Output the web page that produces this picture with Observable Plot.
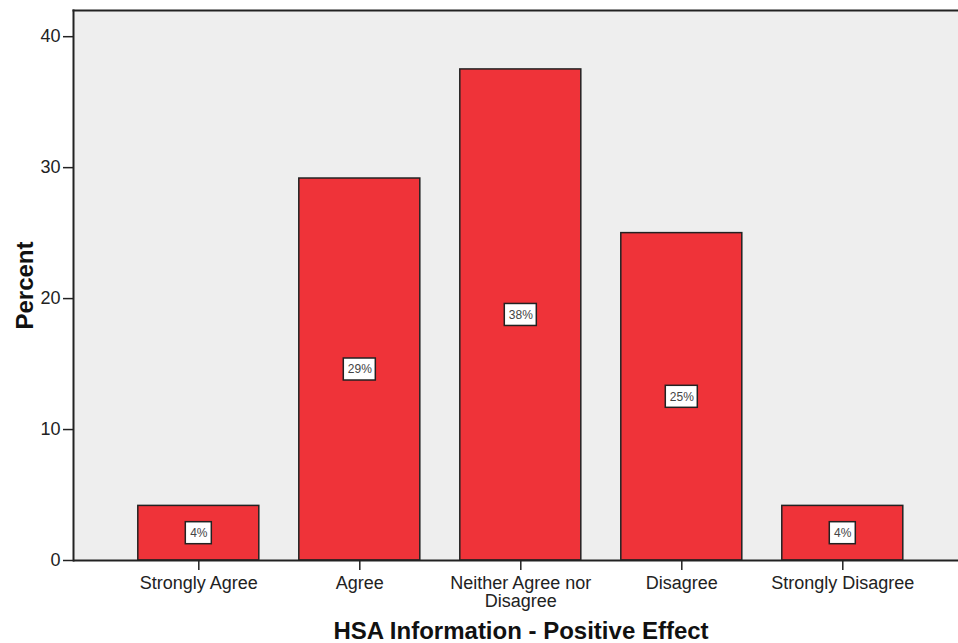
<!DOCTYPE html>
<html>
<head>
<meta charset="utf-8">
<script src="https://cdn.jsdelivr.net/npm/d3@7"></script>
<script src="https://cdn.jsdelivr.net/npm/@observablehq/plot@0.6"></script>
<style>
  html, body { margin: 0; padding: 0; background: #ffffff; }
  #chart svg { display: block; }
</style>
</head>
<body>
<div id="chart"></div>
<script>
const categories = ["Strongly Agree", "Agree", "Neither Agree nor\nDisagree", "Disagree", "Strongly Disagree"];
const percents = [4.17, 29.17, 37.5, 25.0, 4.17];
const pctLabels = ["4%", "29%", "38%", "25%", "4%"];
const yTicks = [0, 10, 20, 30, 40];
const xTitle = "HSA Information - Positive Effect";
const yTitle = "Percent";

const data = categories.map((c, i) => ({cat: c, v: percents[i], half: percents[i] / 2, lab: pctLabels[i]}));
const short = data.filter(d => d.lab.length <= 2);
const long = data.filter(d => d.lab.length > 2);

const font = "'Liberation Sans', Arial, Helvetica, sans-serif";
const ink = "#222";

const chart = Plot.plot({
  width: 958,
  height: 643,
  marginLeft: 73,
  marginRight: 0,
  marginTop: 10,
  marginBottom: 83,
  style: {fontFamily: font, background: "#ffffff"},
  x: {domain: categories, paddingInner: 0.2484, paddingOuter: 0.3727, align: 0.54, round: false, axis: null},
  y: {domain: [0, 42], axis: null},
  marks: [
    Plot.frame({fill: "#eeeeee"}),
    Plot.barY(data, {x: "cat", y: "v", fill: "#ef3339", stroke: ink, strokeWidth: 1.5}),
    Plot.rect(long, {x: "cat", y1: "half", y2: "half", fill: "#ffffff", stroke: ink, strokeWidth: 1.5,
      insetLeft: 44.5, insetRight: 44.5, insetTop: -11, insetBottom: -11}),
    Plot.rect(short, {x: "cat", y1: "half", y2: "half", fill: "#ffffff", stroke: ink, strokeWidth: 1.5,
      insetLeft: 47.5, insetRight: 47.5, insetTop: -11, insetBottom: -11}),
    Plot.text(data, {x: "cat", y: "half", text: "lab", fontSize: 12, fill: "#444"}),
    Plot.frame({anchor: "top", stroke: ink, strokeWidth: 2}),
    Plot.frame({anchor: "left", stroke: ink, strokeWidth: 2}),
    Plot.ruleY([0], {stroke: ink, strokeWidth: 2}),
    Plot.axisY({ticks: yTicks, tickSize: 10, tickPadding: 3, fontSize: 18, label: null, stroke: ink, strokeWidth: 1.5, fill: ink}),
    Plot.axisX({tickSize: 10, tickPadding: 6, fontSize: 18, lineHeight: 1.0, label: null, stroke: ink, strokeWidth: 1.5, fill: ink}),
    Plot.text([xTitle], {frameAnchor: "bottom", textAnchor: "middle", lineAnchor: "bottom", dx: 5, dy: 78, fontSize: 24, fontWeight: "bold", fill: "#111"}),
    Plot.text([yTitle], {frameAnchor: "left", textAnchor: "middle", lineAnchor: "bottom", rotate: -90, dx: -41, fontSize: 24, fontWeight: "bold", fill: "#111"})
  ]
});
document.getElementById("chart").appendChild(chart);
</script>
</body>
</html>
